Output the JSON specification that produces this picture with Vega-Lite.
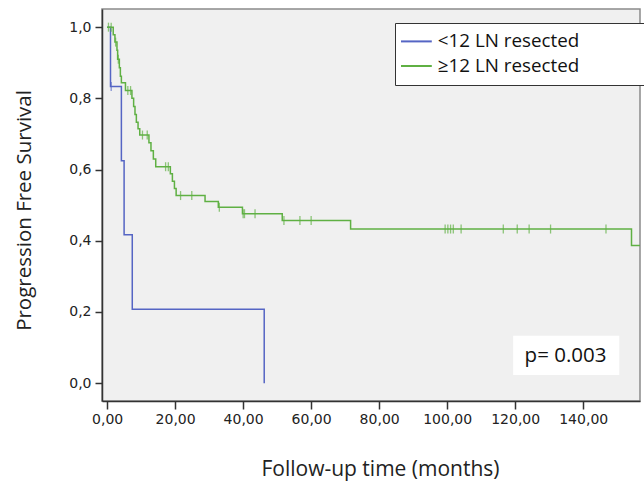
{
  "$schema": "https://vega.github.io/schema/vega-lite/v6.json",
  "width": 538,
  "height": 392,
  "autosize": {"type": "none"},
  "padding": {"left": 102, "top": 9, "right": 4, "bottom": 84},
  "background": "#ffffff",
  "config": {
    "view": {"fill": "#f0f0f0", "stroke": "#8a8a8a", "strokeWidth": 1.5},
    "axis": {
      "domainColor": "#333333",
      "domainWidth": 1.5,
      "tickColor": "#333333",
      "tickWidth": 1.5,
      "grid": false,
      "labelFont": "DejaVu Sans",
      "labelFontSize": 14,
      "labelColor": "#222222",
      "titleFont": "Open Sans",
      "titleFontWeight": "normal",
      "titleColor": "#222222"
    }
  },
  "datasets": {
    "km": [
      {"group": "<12 LN resected", "kind": "step", "month": 0, "surv": 1.0},
      {"group": "<12 LN resected", "kind": "step", "month": 1.0, "surv": 0.833},
      {"group": "<12 LN resected", "kind": "step", "month": 4.2, "surv": 0.625},
      {"group": "<12 LN resected", "kind": "step", "month": 5.0, "surv": 0.417},
      {"group": "<12 LN resected", "kind": "step", "month": 7.4, "surv": 0.208},
      {"group": "<12 LN resected", "kind": "step", "month": 46.2, "surv": 0.0},
      {"group": "<12 LN resected", "kind": "censor", "month": 1.2, "surv": 0.833},

      {"group": "≥12 LN resected", "kind": "step", "month": 0, "surv": 1.0},
      {"group": "≥12 LN resected", "kind": "step", "month": 1.8, "surv": 0.979},
      {"group": "≥12 LN resected", "kind": "step", "month": 2.3, "surv": 0.958},
      {"group": "≥12 LN resected", "kind": "step", "month": 2.9, "surv": 0.935},
      {"group": "≥12 LN resected", "kind": "step", "month": 3.1, "surv": 0.91},
      {"group": "≥12 LN resected", "kind": "step", "month": 3.6, "surv": 0.886},
      {"group": "≥12 LN resected", "kind": "step", "month": 3.9, "surv": 0.862},
      {"group": "≥12 LN resected", "kind": "step", "month": 4.2, "surv": 0.844},
      {"group": "≥12 LN resected", "kind": "step", "month": 5.4, "surv": 0.822},
      {"group": "≥12 LN resected", "kind": "step", "month": 7.3, "surv": 0.8},
      {"group": "≥12 LN resected", "kind": "step", "month": 7.8, "surv": 0.777},
      {"group": "≥12 LN resected", "kind": "step", "month": 8.2, "surv": 0.755},
      {"group": "≥12 LN resected", "kind": "step", "month": 8.6, "surv": 0.733},
      {"group": "≥12 LN resected", "kind": "step", "month": 9.1, "surv": 0.715},
      {"group": "≥12 LN resected", "kind": "step", "month": 9.6, "surv": 0.697},
      {"group": "≥12 LN resected", "kind": "step", "month": 12.3, "surv": 0.675},
      {"group": "≥12 LN resected", "kind": "step", "month": 12.9, "surv": 0.653},
      {"group": "≥12 LN resected", "kind": "step", "month": 13.6, "surv": 0.63},
      {"group": "≥12 LN resected", "kind": "step", "month": 14.3, "surv": 0.608},
      {"group": "≥12 LN resected", "kind": "step", "month": 18.6, "surv": 0.588},
      {"group": "≥12 LN resected", "kind": "step", "month": 19.2, "surv": 0.567},
      {"group": "≥12 LN resected", "kind": "step", "month": 19.8, "surv": 0.547},
      {"group": "≥12 LN resected", "kind": "step", "month": 20.3, "surv": 0.527},
      {"group": "≥12 LN resected", "kind": "step", "month": 28.8, "surv": 0.51},
      {"group": "≥12 LN resected", "kind": "step", "month": 32.7, "surv": 0.494},
      {"group": "≥12 LN resected", "kind": "step", "month": 39.8, "surv": 0.476},
      {"group": "≥12 LN resected", "kind": "step", "month": 51.5, "surv": 0.457},
      {"group": "≥12 LN resected", "kind": "step", "month": 71.6, "surv": 0.433},
      {"group": "≥12 LN resected", "kind": "step", "month": 154.2, "surv": 0.387},
      {"group": "≥12 LN resected", "kind": "step", "month": 156.7, "surv": 0.387},

      {"group": "≥12 LN resected", "kind": "censor", "month": 0.4, "surv": 1.0},
      {"group": "≥12 LN resected", "kind": "censor", "month": 1.2, "surv": 1.0},
      {"group": "≥12 LN resected", "kind": "censor", "month": 2.5, "surv": 0.958},
      {"group": "≥12 LN resected", "kind": "censor", "month": 3.3, "surv": 0.91},
      {"group": "≥12 LN resected", "kind": "censor", "month": 6.1, "surv": 0.822},
      {"group": "≥12 LN resected", "kind": "censor", "month": 6.9, "surv": 0.822},
      {"group": "≥12 LN resected", "kind": "censor", "month": 10.4, "surv": 0.697},
      {"group": "≥12 LN resected", "kind": "censor", "month": 11.8, "surv": 0.697},
      {"group": "≥12 LN resected", "kind": "censor", "month": 17.2, "surv": 0.608},
      {"group": "≥12 LN resected", "kind": "censor", "month": 18.0, "surv": 0.608},
      {"group": "≥12 LN resected", "kind": "censor", "month": 21.6, "surv": 0.527},
      {"group": "≥12 LN resected", "kind": "censor", "month": 24.9, "surv": 0.527},
      {"group": "≥12 LN resected", "kind": "censor", "month": 33.0, "surv": 0.494},
      {"group": "≥12 LN resected", "kind": "censor", "month": 40.0, "surv": 0.476},
      {"group": "≥12 LN resected", "kind": "censor", "month": 40.4, "surv": 0.476},
      {"group": "≥12 LN resected", "kind": "censor", "month": 43.5, "surv": 0.476},
      {"group": "≥12 LN resected", "kind": "censor", "month": 52.0, "surv": 0.457},
      {"group": "≥12 LN resected", "kind": "censor", "month": 56.7, "surv": 0.457},
      {"group": "≥12 LN resected", "kind": "censor", "month": 60.0, "surv": 0.457},
      {"group": "≥12 LN resected", "kind": "censor", "month": 99.4, "surv": 0.433},
      {"group": "≥12 LN resected", "kind": "censor", "month": 100.2, "surv": 0.433},
      {"group": "≥12 LN resected", "kind": "censor", "month": 101.0, "surv": 0.433},
      {"group": "≥12 LN resected", "kind": "censor", "month": 101.8, "surv": 0.433},
      {"group": "≥12 LN resected", "kind": "censor", "month": 104.1, "surv": 0.433},
      {"group": "≥12 LN resected", "kind": "censor", "month": 116.5, "surv": 0.433},
      {"group": "≥12 LN resected", "kind": "censor", "month": 120.6, "surv": 0.433},
      {"group": "≥12 LN resected", "kind": "censor", "month": 124.1, "surv": 0.433},
      {"group": "≥12 LN resected", "kind": "censor", "month": 130.4, "surv": 0.433},
      {"group": "≥12 LN resected", "kind": "censor", "month": 146.7, "surv": 0.433}
    ],
    "note": [
      {"label": "p= 0.003", "xa": 119.4, "xb": 150.6, "ya": 0.023, "yb": 0.133, "tx": 134.8, "ty": 0.077}
    ]
  },
  "layer": [
    {
      "data": {"name": "km"},
      "transform": [{"filter": "datum.kind == 'step'"}],
      "mark": {"type": "line", "interpolate": "step-after", "strokeWidth": 1.5, "clip": true},
      "encoding": {
        "x": {
          "field": "month", "type": "quantitative",
          "scale": {"domain": [-1.5, 156.7], "nice": false, "zero": false},
          "axis": {
            "values": [0, 20, 40, 60, 80, 100, 120, 140],
            "labelExpr": "replace(format(datum.value, '.2f'), '.', ',')",
            "tickSize": 8,
            "labelPadding": 3,
            "title": "Follow-up time (months)",
            "titleFontSize": 21,
            "titleX": 278,
            "titleY": 68,
            "titleBaseline": "middle",
            "titleAlign": "center"
          }
        },
        "y": {
          "field": "surv", "type": "quantitative",
          "scale": {"domain": [-0.05, 1.051], "nice": false, "zero": false},
          "axis": {
            "values": [0, 0.2, 0.4, 0.6, 0.8, 1.0],
            "labelExpr": "replace(format(datum.value, '.1f'), '.', ',')",
            "tickSize": 7,
            "labelPadding": 4,
            "title": "Progression Free Survival",
            "titleFontSize": 20.5,
            "titleX": -78,
            "titleY": 201,
            "titleAngle": -90,
            "titleBaseline": "middle",
            "titleAlign": "center"
          }
        },
        "color": {
          "field": "group", "type": "nominal",
          "scale": {"domain": ["<12 LN resected", "≥12 LN resected"], "range": ["#5565c4", "#5fb043"]},
          "legend": {
            "title": null,
            "orient": "none",
            "legendX": 293,
            "legendY": 14,
            "symbolType": "M-2.8,0H2.8",
            "symbolSize": 121,
            "symbolStrokeWidth": 2,
            "symbolOffset": 3,
            "labelFont": "Open Sans",
            "labelFontSize": 18.8,
            "labelColor": "#111111",
            "labelOffset": 12,
            "labelLimit": 300,
            "labelExpr": "datum.value == '<12 LN resected' ? '<12 LN resected\u2800\u2800\u2800\u2800' : '≥12 LN resected\u2800\u2800\u2800'",
            "padding": 9,
            "rowPadding": 4.6,
            "fillColor": "#ffffff",
            "strokeColor": "#333333",
            "encode": {
              "symbols": {
                "update": {
                  "stroke": {"signal": "datum.value == '<12 LN resected' ? '#1e1e9c' : '#3a8c28'"}
                }
              }
            }
          }
        },
        "order": {"field": "month", "type": "quantitative"}
      }
    },
    {
      "data": {"name": "km"},
      "transform": [{"filter": "datum.kind == 'censor'"}],
      "mark": {"type": "tick", "orient": "vertical", "size": 9, "thickness": 1.3},
      "encoding": {
        "x": {"field": "month", "type": "quantitative"},
        "y": {"field": "surv", "type": "quantitative"},
        "color": {"field": "group", "type": "nominal"}
      }
    },
    {
      "data": {"name": "note"},
      "mark": {"type": "rect", "fill": "#ffffff"},
      "encoding": {
        "x": {"field": "xa", "type": "quantitative"},
        "x2": {"field": "xb"},
        "y": {"field": "ya", "type": "quantitative"},
        "y2": {"field": "yb"}
      }
    },
    {
      "data": {"name": "note"},
      "mark": {"type": "text", "font": "Open Sans", "fontSize": 20.5, "color": "#111111", "align": "center", "baseline": "middle"},
      "encoding": {
        "x": {"field": "tx", "type": "quantitative"},
        "y": {"field": "ty", "type": "quantitative"},
        "text": {"field": "label"}
      }
    }
  ]
}
